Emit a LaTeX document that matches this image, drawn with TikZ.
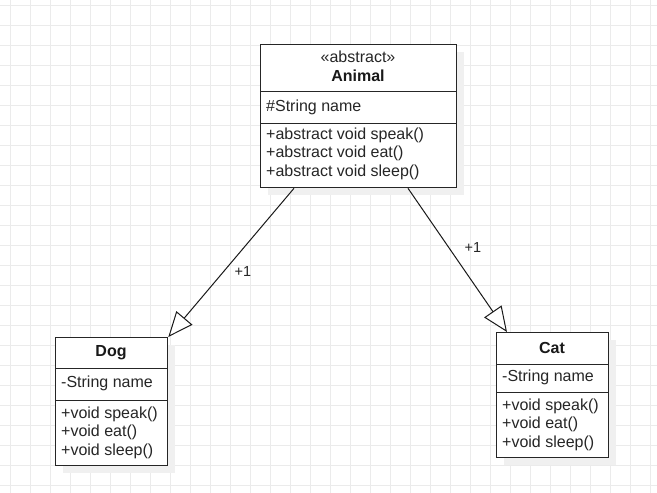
\documentclass[tikz,border=0pt]{standalone}
\usepackage{fontspec}
\setmainfont{Liberation Sans}
\usetikzlibrary{arrows.meta,calc}
\begin{document}
\begin{tikzpicture}[x=1pt,y=-1pt,
  gridline/.style={draw=black!8,line width=0.8pt},
  shadowbox/.style={fill=black!6,draw=none},
  part/.style={draw=black!85,line width=1.3pt,fill=white,rectangle,inner sep=0pt,anchor=north west},
  txt/.style={inner sep=0pt,anchor=west,font=\fontsize{16}{18}\selectfont,text=black!85},
  ttl/.style={inner sep=0pt,anchor=center,font=\fontsize{16}{18}\selectfont,text=black!85},
  ttlb/.style={inner sep=0pt,anchor=center,font=\fontsize{16}{18}\selectfont\bfseries,text=black!90},
  inherit/.style={draw=black!90,line width=1pt,-{Triangle[open,length=25pt,width=21pt,fill=white]}},
  mult/.style={inner sep=0pt,font=\fontsize{14.5}{16}\selectfont,text=black!85}
]
\useasboundingbox (0,0) rectangle (657,493);
\fill[white] (0,0) rectangle (657,493);
% grid
\foreach \gx in {10,30,...,650} {\draw[gridline] (\gx,0) -- (\gx,493);}
\foreach \gy in {5,25,...,490} {\draw[gridline] (0,\gy) -- (657,\gy);}
% shadows
\fill[shadowbox] (268,52) rectangle (464,195);
\fill[shadowbox] (63,345) rectangle (175,473);
\fill[shadowbox] (504,340) rectangle (616,465);
% Animal
\node[part,minimum width=196pt,minimum height=47pt] (animalhead) at (260,44) {};
\node[part,minimum width=196pt,minimum height=32pt] (animalattr) at (260,91) {};
\node[part,minimum width=196pt,minimum height=64pt] (animalops) at (260,123) {};
\node[ttl] (animalstereo) at (358,57) {«abstract»};
\node[ttlb] (animalname) at (358,75.5) {Animal};
\node[txt] (animala1) at (266,107) {\#String name};
\node[txt] (animalm1) at (266,135) {+abstract void speak()};
\node[txt] (animalm2) at (266,153.5) {+abstract void eat()};
\node[txt] (animalm3) at (266,172) {+abstract void sleep()};
% Dog
\node[part,minimum width=112pt,minimum height=31pt] (doghead) at (55,337) {};
\node[part,minimum width=112pt,minimum height=32pt] (dogattr) at (55,368) {};
\node[part,minimum width=112pt,minimum height=65pt] (dogops) at (55,400) {};
\node[ttlb] (dogname) at (111,352.5) {Dog};
\node[txt] (doga1) at (61,383.5) {-String name};
\node[txt] (dogm1) at (61,414.5) {+void speak()};
\node[txt] (dogm2) at (61,432.5) {+void eat()};
\node[txt] (dogm3) at (61,451) {+void sleep()};
% Cat
\node[part,minimum width=112pt,minimum height=32pt] (cathead) at (496,332) {};
\node[part,minimum width=112pt,minimum height=28pt] (catattr) at (496,364) {};
\node[part,minimum width=112pt,minimum height=65pt] (catops) at (496,392) {};
\node[ttlb] (catname) at (552,347.5) {Cat};
\node[txt] (cata1) at (502,377.5) {-String name};
\node[txt] (catm1) at (502,406.5) {+void speak()};
\node[txt] (catm2) at (502,424.5) {+void eat()};
\node[txt] (catm3) at (502,443) {+void sleep()};
% connectors
\coordinate (leftstart) at ($(animalops.south west)+(34,0)$);
\coordinate (rightstart) at ($(animalops.south west)+(148,0)$);
\coordinate (righttip) at ($(cathead.north west)+(11,0)$);
\draw[inherit] (leftstart) -- (doghead.north east);
\draw[inherit] (rightstart) -- (righttip);
\node[mult] (leftmult) at (243,272) {+1};
\node[mult] (rightmult) at (473,248) {+1};
\end{tikzpicture}
\end{document}
